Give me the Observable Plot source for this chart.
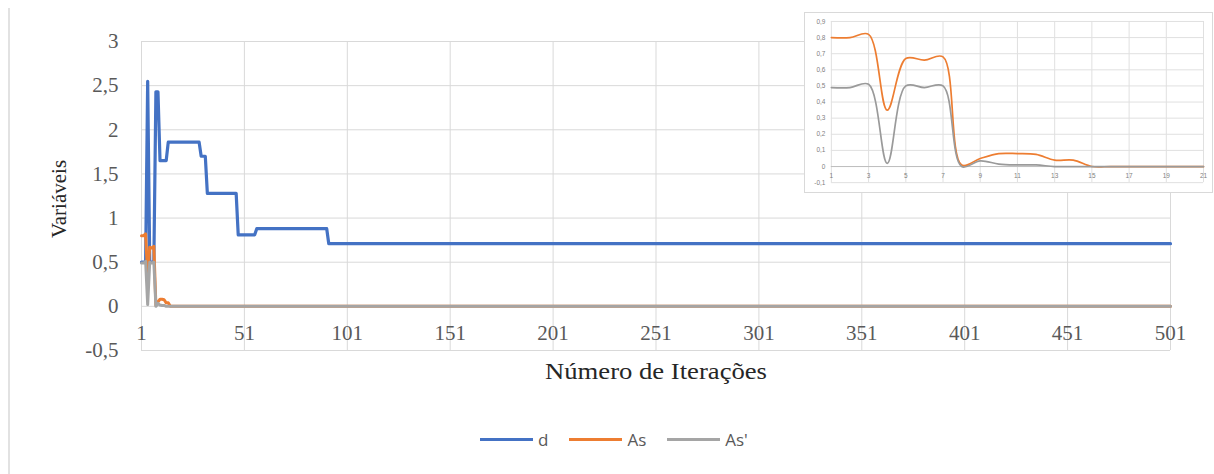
<!DOCTYPE html>
<html>
<head>
<meta charset="utf-8">
<script src="https://cdn.jsdelivr.net/npm/d3@7"></script>
<script src="https://cdn.jsdelivr.net/npm/@observablehq/plot@0.6"></script>
<style>
  html, body { margin: 0; padding: 0; background: #fff; }
  #wrap { position: relative; width: 1214px; height: 474px; overflow: hidden; background: #fff; }
  #main { position: absolute; left: 0; top: 0; }
  #inset { position: absolute; left: 804px; top: 12px; width: 409px; height: 181px; box-sizing: border-box; border: 1px solid #d9d9d9; background: #fff; }
  #inset svg { position: absolute; left: -1px; top: -1px; }
  #edge { position: absolute; left: 8px; top: 8px; width: 2px; height: 466px; background: #e2e2e2; }
  #legend { position: absolute; left: 480px; top: 428px; display: flex; align-items: center; font-family: "Open Sans", "Noto Sans", sans-serif; font-size: 17px; color: #595959; }
  .item { display: flex; align-items: center; margin-right: 21px; }
  .sw { width: 53px; height: 3px; margin-right: 5px; }
</style>
</head>
<body>
<div id="wrap">
  <div id="edge"></div>
  <div id="main"></div>
  <div id="inset"></div>
  <div id="legend"></div>
</div>
<script>
// ---- data ----
const seriesNames = ["d", "As", "As'"];
const seriesColors = ["#4472C4", "#ED7D31", "#A5A5A5"];

const xTicks = [1, 51, 101, 151, 201, 251, 301, 351, 401, 451, 501];
const yTicks = [-0.5, 0, 0.5, 1, 1.5, 2, 2.5, 3];

// d: vertices (iteration, value)
const dIter = [1, 2, 3, 4, 5, 6, 7, 8, 9, 10, 13, 14, 29, 30, 32, 33, 47, 48, 56, 57, 91, 92, 501];
const dVal  = [0.5, 0.5, 0.5, 2.55, 0.5, 0.5, 0.5, 2.43, 2.43, 1.65, 1.65, 1.86, 1.86, 1.70, 1.70, 1.28, 1.28, 0.81, 0.81, 0.88, 0.88, 0.71, 0.71];

// As and As' for the first iterations (also shown in the inset)
const earlyIter = [1, 2, 3, 4, 5, 6, 7, 8, 9, 10, 11, 12, 13, 14, 15, 16, 17, 18, 19, 20, 21];
const asVal  = [0.80, 0.80, 0.82, 0.35, 0.67, 0.66, 0.68, 0.01, 0.05, 0.08, 0.08, 0.075, 0.04, 0.04, 0.0, 0, 0, 0, 0, 0, 0];
const as2Val = [0.49, 0.49, 0.51, 0.02, 0.50, 0.49, 0.50, 0.0, 0.035, 0.015, 0.01, 0.01, 0.0, 0, 0, 0, 0, 0, 0, 0, 0];
const lastIter = 501;
const lastAs = 0;
const lastAs2 = 0;

const insetXTicks = [1, 3, 5, 7, 9, 11, 13, 15, 17, 19, 21];
const insetYTicks = [-0.1, 0, 0.1, 0.2, 0.3, 0.4, 0.5, 0.6, 0.7, 0.8, 0.9];

const xTitle = "Número de Iterações";
const yTitle = "Variáveis";

// ---- tables ----
const dData = dIter.map((x, i) => ({x, y: dVal[i]}));
const asData = earlyIter.map((x, i) => ({x, y: asVal[i]})).concat([{x: lastIter, y: lastAs}]);
const as2Data = earlyIter.map((x, i) => ({x, y: as2Val[i]})).concat([{x: lastIter, y: lastAs2}]);
const asEarly = earlyIter.map((x, i) => ({x, y: asVal[i]}));
const as2Early = earlyIter.map((x, i) => ({x, y: as2Val[i]}));

const comma = d => String(Math.round(d * 10) / 10).replace(".", ",");

// ---- main chart ----
const main = Plot.plot({
  width: 1214,
  height: 400,
  marginTop: 41,
  marginBottom: 50,
  marginLeft: 141,
  marginRight: 44,
  x: {domain: [1, 501]},
  y: {domain: [-0.5, 3]},
  style: {fontFamily: "'Liberation Serif', serif", background: "transparent", overflow: "visible"},
  marks: [
    Plot.gridX(xTicks, {stroke: "#d9d9d9", strokeOpacity: 1}),
    Plot.gridY(yTicks, {stroke: "#d9d9d9", strokeOpacity: 1}),
    Plot.axisY(yTicks, {tickSize: 0, tickPadding: 23, tickFormat: comma, fontSize: 21, fill: "#595959", label: null}),
    Plot.axisX(xTicks, {tickSize: 0, tickPadding: 0, dy: -25, tickFormat: d => String(d), fontSize: 21, fill: "#595959", label: null}),
    Plot.line(dData, {x: "x", y: "y", stroke: seriesColors[0], strokeWidth: 3.2, strokeLinejoin: "round"}),
    Plot.line(asData, {x: "x", y: "y", stroke: seriesColors[1], strokeWidth: 3, strokeLinejoin: "round"}),
    Plot.line(as2Data, {x: "x", y: "y", stroke: seriesColors[2], strokeWidth: 3, strokeLinejoin: "round"}),
    Plot.text([xTitle], {frameAnchor: "bottom", dy: 28, fontSize: 24, fill: "#262626"}),
    Plot.text([yTitle], {frameAnchor: "left", textAnchor: "middle", lineAnchor: "middle", dx: -82, dy: 3, rotate: -90, fontSize: 21, fill: "#262626"})
  ]
});
document.getElementById("main").appendChild(main);
// stretch the horizontal title to the width it has in the reference
d3.select(main).selectAll("text").filter(function() { return this.textContent === xTitle; })
  .attr("textLength", 222).attr("lengthAdjust", "spacingAndGlyphs");

// ---- inset ----
const inset = Plot.plot({
  width: 409,
  height: 181,
  marginTop: 9,
  marginBottom: 10,
  marginLeft: 27,
  marginRight: 8,
  x: {domain: [1, 21]},
  y: {domain: [-0.1, 0.9]},
  style: {fontFamily: "'Liberation Sans', sans-serif", background: "transparent", overflow: "visible"},
  marks: [
    Plot.gridX(insetXTicks, {stroke: "#e0e0e0", strokeOpacity: 1}),
    Plot.gridY(insetYTicks, {stroke: "#e0e0e0", strokeOpacity: 1}),
    Plot.ruleY([0], {stroke: "#bdbdbd"}),
    Plot.axisY(insetYTicks, {tickSize: 0, tickPadding: 6, tickFormat: comma, fontSize: 6.5, fill: "#7f7f7f", label: null}),
    Plot.axisX(insetXTicks, {tickSize: 0, tickPadding: 0, dy: -9, tickFormat: d => String(d), fontSize: 6.5, fill: "#7f7f7f", label: null}),
    Plot.line(asEarly, {x: "x", y: "y", stroke: seriesColors[1], strokeWidth: 1.7, curve: "catmull-rom"}),
    Plot.line(as2Early, {x: "x", y: "y", stroke: "#9a9a9a", strokeWidth: 1.7, curve: "catmull-rom"})
  ]
});
document.getElementById("inset").appendChild(inset);

// ---- legend ----
const legend = document.getElementById("legend");
seriesNames.forEach((n, i) => {
  const it = document.createElement("div");
  it.className = "item";
  const sw = document.createElement("div");
  sw.className = "sw";
  sw.style.background = seriesColors[i];
  const t = document.createElement("span");
  t.textContent = n;
  it.appendChild(sw);
  it.appendChild(t);
  legend.appendChild(it);
});
</script>
</body>
</html>
